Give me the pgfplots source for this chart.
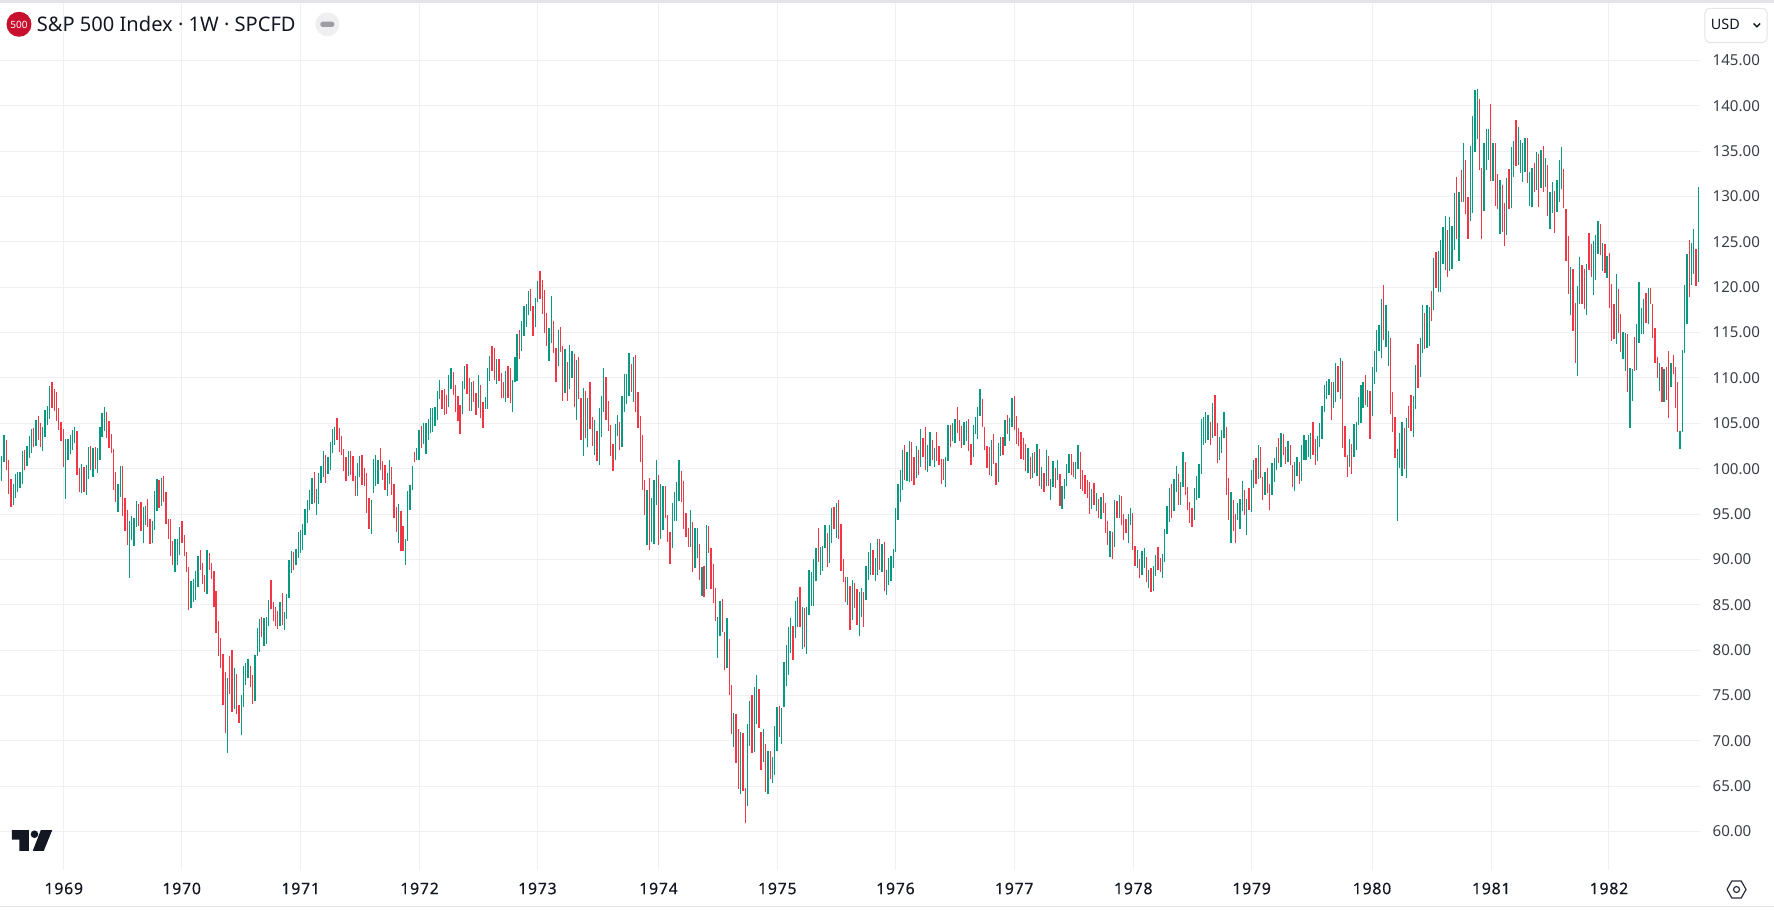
\documentclass[border=0pt]{standalone}
\usepackage{fontspec}
\setmainfont{Noto Sans}
\newfontfamily\yearfont[FakeBold=0.3,LetterSpace=5]{Noto Sans}
\usepackage{pgfplots}
\usepackage{pgfplotstable}
\pgfplotsset{compat=1.18}
\definecolor{upc}{HTML}{089981}
\definecolor{dnc}{HTML}{F23645}
\definecolor{gridc}{HTML}{F0F0F2}
\definecolor{txt}{HTML}{131722}
\definecolor{axt}{HTML}{3A3E48}
\definecolor{edge}{HTML}{E4E4E8}
\definecolor{badge}{HTML}{C8102E}
\definecolor{pill}{HTML}{EFEFF1}
\definecolor{pilld}{HTML}{9C9EA3}
\definecolor{icon}{HTML}{2A2E39}
% weekly bars: high, low, c (1 = up, 0 = down)
\pgfplotstableread{
h l c
101.4 98.6 1
103.7 100.7 1
103.2 99.9 0
100.9 97.2 0
98.9 95.8 0
98.3 96.0 1
99.4 96.8 1
99.6 97.4 1
99.6 97.9 1
102.0 98.3 1
102.1 99.8 0
102.5 100.3 1
103.6 101.2 1
104.4 101.7 1
104.5 102.4 0
105.4 102.5 1
105.8 103.2 0
105.0 102.4 0
104.6 101.9 1
106.5 103.5 1
106.9 104.8 1
109.1 105.5 1
109.5 106.7 0
108.8 106.4 0
108.5 105.2 0
106.7 104.3 0
105.1 103.1 0
104.4 100.2 0
103.3 96.7 1
103.3 100.9 1
103.7 101.6 1
104.3 102.1 1
104.6 102.8 1
104.1 99.3 0
100.1 97.4 0
100.5 97.3 1
100.2 97.4 0
100.4 97.1 1
102.4 98.9 1
102.5 99.9 0
102.3 99.1 1
102.4 100.0 0
102.3 99.5 1
104.6 101.0 1
106.1 103.5 1
106.8 104.2 1
106.2 103.4 0
105.2 102.3 0
103.8 101.7 0
102.2 97.7 0
99.6 96.3 0
98.3 95.2 1
100.3 96.9 1
100.3 94.8 0
96.8 93.1 0
95.4 91.6 0
94.2 88.0 1
94.8 92.1 1
94.6 91.5 1
96.4 93.6 1
96.1 93.7 0
96.3 93.1 0
95.8 91.8 1
95.9 93.8 1
96.7 93.6 0
94.4 91.7 0
94.2 91.8 1
97.5 93.2 1
98.9 95.3 1
98.8 95.7 0
99.0 95.9 1
99.2 96.3 0
97.4 93.9 0
94.4 92.2 0
94.4 90.4 0
92.0 89.4 0
92.3 88.6 1
92.3 89.4 1
93.6 90.5 1
94.2 91.8 0
92.7 90.4 0
90.8 88.6 0
89.2 84.4 0
87.6 84.6 1
87.8 85.3 1
88.7 85.5 1
90.4 87.0 1
91.0 88.8 0
89.6 87.3 0
88.3 86.4 0
91.0 86.2 1
90.7 88.8 0
89.6 87.8 0
88.7 84.7 0
86.5 81.9 0
83.2 79.3 0
81.3 78.0 0
79.6 74.0 0
77.6 70.9 0
76.9 68.6 1
79.4 75.2 0
80.0 73.2 0
78.0 73.5 1
77.4 73.0 0
73.9 72.0 0
75.1 70.6 1
78.2 73.7 1
78.6 76.2 1
79.0 76.9 1
78.2 75.9 0
77.3 74.1 0
79.5 74.4 1
82.4 79.4 1
83.4 79.8 1
83.7 81.4 0
83.5 80.5 1
83.6 80.7 1
85.5 82.6 1
87.7 84.5 0
85.3 83.2 0
84.7 82.6 0
84.3 82.3 0
85.3 82.6 1
86.3 82.8 0
84.2 82.2 1
86.2 83.4 1
89.9 85.7 1
90.9 88.5 1
90.8 88.8 0
91.1 89.4 1
93.0 90.2 1
93.2 90.7 1
93.9 91.0 1
95.6 92.7 1
96.5 94.0 1
97.7 95.4 1
99.0 96.1 1
99.6 96.2 0
97.8 94.9 1
99.5 96.1 1
100.3 98.4 1
102.0 99.1 1
101.5 98.4 0
101.3 99.4 1
102.9 99.9 1
104.4 101.7 1
104.6 102.6 1
105.6 103.2 0
104.5 101.8 0
103.6 101.5 0
102.2 99.7 0
101.3 98.6 0
102.0 99.2 1
102.0 99.3 0
101.4 98.6 0
99.2 97.0 0
100.6 97.0 1
101.4 99.1 1
101.5 98.2 0
100.1 98.1 0
99.5 95.1 0
96.8 93.4 0
96.5 92.8 1
101.1 97.3 1
101.5 98.1 1
101.0 98.3 1
102.3 99.8 0
100.8 98.8 0
100.4 97.6 0
99.5 97.0 1
101.0 98.3 1
100.2 97.1 0
98.3 94.6 0
95.8 93.0 0
96.1 91.8 1
95.3 90.9 0
93.7 90.9 0
92.2 89.4 1
97.5 92.0 1
98.2 95.4 1
100.3 97.6 1
101.8 100.7 0
102.3 101.0 1
104.3 100.9 1
104.7 102.3 0
105.0 102.7 1
105.0 101.6 1
105.5 103.2 1
106.7 103.9 1
106.7 104.0 1
106.8 104.7 1
108.6 105.4 1
109.8 107.7 1
108.7 106.6 0
108.8 105.9 0
108.1 106.0 0
110.3 106.8 1
111.1 108.8 1
110.7 108.1 0
109.2 106.3 0
108.0 105.2 0
107.0 103.8 0
109.7 106.0 1
111.3 108.8 1
111.5 108.2 0
110.0 106.4 0
109.6 106.4 1
109.7 107.4 0
108.3 105.9 0
110.3 106.7 1
109.2 105.6 0
107.3 104.5 0
107.9 106.6 1
111.1 106.6 1
112.4 109.7 1
113.5 110.8 0
113.3 109.8 0
112.1 109.3 1
112.1 109.7 0
110.5 107.8 0
109.6 107.8 0
110.8 107.4 1
111.3 107.8 0
111.1 107.2 0
109.8 106.3 1
112.3 109.5 1
114.9 109.7 1
115.3 112.1 0
116.3 113.0 1
117.9 114.6 1
118.2 115.6 1
119.6 116.9 1
119.8 117.4 0
117.9 114.6 0
118.8 115.6 1
120.7 118.4 1
121.8 118.7 0
120.8 117.1 0
119.7 115.0 0
117.2 113.5 0
115.5 111.9 1
119.0 113.8 1
116.3 112.8 0
113.3 109.5 0
115.3 111.3 1
115.6 112.9 0
113.5 107.5 0
113.2 108.3 1
111.8 107.5 0
113.6 108.8 1
113.0 110.0 1
112.6 106.8 0
112.0 105.4 1
112.3 107.7 0
107.8 103.2 0
108.9 101.4 1
108.6 103.4 0
107.8 102.4 1
109.6 104.4 0
105.7 102.5 0
105.4 101.5 1
104.2 100.8 0
106.7 100.4 1
108.0 103.5 1
111.1 106.3 1
110.1 105.4 0
107.5 104.2 0
104.8 101.4 0
102.7 99.7 0
104.9 101.0 1
105.9 103.6 1
105.1 102.1 0
108.0 102.4 1
110.4 106.2 1
110.4 107.1 1
112.8 108.0 1
111.5 108.5 0
112.3 107.4 1
112.5 106.3 0
108.4 104.5 0
105.8 100.7 0
103.7 97.6 0
98.7 94.9 0
97.6 91.6 1
99.0 91.0 0
96.8 91.9 1
98.7 91.7 1
100.9 96.0 1
99.3 91.6 0
98.3 92.3 1
98.1 93.2 1
98.1 94.6 0
94.9 91.9 0
93.0 89.5 0
96.2 91.3 1
97.4 94.2 1
98.5 94.2 1
101.0 96.4 1
99.7 96.3 0
98.6 93.4 0
95.1 92.5 0
93.5 91.4 0
95.4 91.4 1
94.1 88.6 0
93.5 89.0 1
93.5 90.1 1
91.7 87.7 0
89.2 86.0 1
89.3 85.8 0
93.8 86.7 1
93.7 90.7 0
91.3 86.7 0
89.5 85.2 0
86.8 83.2 0
83.6 79.1 1
85.4 81.6 1
85.6 82.0 0
82.0 77.8 0
83.5 78.0 1
81.2 75.1 0
76.1 70.7 0
73.1 69.3 1
72.9 67.6 0
71.3 64.7 0
71.0 64.1 1
70.9 64.5 0
64.8 60.9 0
71.9 62.8 1
74.4 69.4 1
75.0 68.7 0
75.9 68.8 1
77.3 71.9 1
75.7 71.4 0
71.0 66.8 0
71.3 67.7 1
69.7 64.3 0
68.9 64.1 1
68.9 65.8 0
68.2 65.3 1
71.6 66.2 1
73.7 68.9 1
73.8 70.4 0
73.6 69.7 1
78.7 73.7 1
80.6 76.0 1
82.5 77.3 1
83.5 79.7 1
82.7 78.9 0
85.4 81.3 1
85.8 82.5 1
87.0 82.5 0
84.8 80.1 1
84.6 80.3 0
84.7 79.6 1
88.8 83.9 1
88.6 84.9 1
90.0 84.9 1
91.2 87.6 1
93.5 89.7 0
91.4 88.3 1
91.5 88.7 1
93.8 91.3 1
92.9 89.2 0
93.8 89.6 1
95.7 91.8 1
95.8 93.3 0
96.2 92.4 1
96.5 92.3 0
93.9 88.7 0
90.0 87.5 0
88.1 85.3 0
88.1 85.0 1
87.1 82.2 0
87.7 83.3 1
87.4 84.6 0
86.7 82.8 0
86.4 81.5 1
86.8 83.7 1
86.4 82.5 0
89.3 85.5 1
90.8 87.7 1
91.8 88.3 1
91.0 88.3 0
90.1 87.6 1
92.3 88.3 1
92.3 88.8 0
91.7 88.6 1
91.9 86.5 0
88.8 86.1 1
90.1 87.2 1
90.4 87.6 1
91.1 89.1 1
95.7 90.8 1
98.3 94.3 1
99.8 96.3 1
102.1 97.6 1
102.6 98.7 0
101.8 98.6 1
103.0 98.5 1
102.9 98.6 0
101.3 98.2 0
102.5 99.0 1
102.1 99.3 0
104.4 100.2 1
103.4 101.3 0
104.6 99.8 0
102.6 99.6 1
104.0 100.3 1
103.2 101.0 0
102.3 100.2 1
104.0 100.8 0
102.5 100.4 0
101.1 98.3 0
101.1 98.8 0
101.3 98.0 1
104.8 100.8 1
104.8 102.4 0
105.0 103.0 1
105.5 102.8 1
106.8 103.9 0
105.4 103.0 0
104.7 102.3 0
105.1 102.6 1
105.3 103.0 1
105.5 102.0 0
102.7 100.4 0
104.8 101.3 1
105.7 103.8 1
106.8 103.3 1
108.8 105.8 1
107.7 104.6 0
104.6 102.1 0
102.5 100.1 0
102.4 99.3 0
103.2 99.2 1
103.8 100.5 0
100.6 98.2 0
102.8 98.5 1
103.5 101.4 1
103.5 101.5 0
105.4 102.5 1
105.9 103.8 0
105.6 103.1 1
107.8 104.6 1
108.0 104.3 0
105.8 102.7 0
104.5 102.5 0
104.0 101.1 0
103.4 101.0 0
102.7 99.7 0
102.3 99.5 1
101.3 98.9 0
101.7 99.0 1
101.8 99.5 0
102.7 99.2 1
102.2 98.1 0
100.2 97.8 1
99.5 97.4 0
102.1 98.1 1
101.4 98.1 0
98.9 96.5 1
100.8 98.0 1
100.1 97.9 0
101.0 98.8 1
99.4 95.9 0
98.1 95.5 1
98.9 96.7 1
100.5 98.1 1
101.6 99.5 1
101.6 99.3 0
100.7 99.1 0
100.7 98.9 1
102.6 100.0 1
101.8 97.8 0
99.8 97.5 0
99.3 97.2 0
98.8 96.8 0
98.5 95.0 0
97.8 95.5 1
98.4 96.0 0
97.3 95.3 1
96.7 94.6 0
96.9 94.5 1
97.3 95.1 0
96.2 92.9 0
94.2 91.6 0
93.1 90.3 1
93.0 90.0 0
96.5 91.4 1
96.4 94.6 0
97.1 94.6 1
97.0 93.8 0
95.0 92.1 0
94.5 92.9 0
95.0 91.8 1
95.7 93.8 1
95.1 91.0 0
91.5 89.3 0
91.0 89.0 1
90.0 88.0 0
90.9 88.3 1
91.3 89.0 1
90.3 87.5 0
88.8 86.8 1
89.0 86.4 0
89.3 86.5 1
90.5 88.2 1
91.4 88.8 0
90.1 88.6 0
90.6 88.0 1
93.4 89.7 1
95.9 92.8 1
97.9 94.1 1
98.3 94.6 0
98.9 95.3 1
100.3 97.4 1
99.4 96.0 0
98.5 96.0 1
101.8 98.0 1
100.7 97.1 0
98.0 95.4 0
96.3 94.0 0
95.7 93.6 0
97.9 94.3 1
99.2 96.5 1
100.5 96.8 1
105.5 99.4 1
105.7 102.6 1
106.2 102.8 1
105.9 103.2 1
105.1 102.6 0
107.2 103.4 1
108.1 103.6 0
105.0 100.6 0
103.5 101.0 1
104.3 101.7 1
106.2 103.4 1
104.6 97.1 0
99.0 94.3 0
97.4 91.8 1
96.5 93.1 0
95.0 91.8 0
96.2 94.3 1
96.7 93.3 1
98.6 95.3 1
97.6 94.9 0
96.7 92.7 1
97.9 95.4 0
99.8 95.2 1
101.0 97.9 1
101.2 98.3 0
102.6 98.9 1
102.4 99.0 0
99.1 96.5 0
99.6 97.1 1
100.1 97.3 0
98.3 95.4 0
100.6 97.1 1
101.2 98.5 1
102.4 99.8 1
103.4 100.6 0
103.9 100.2 1
103.8 101.5 0
102.4 100.5 0
103.0 100.7 1
102.6 100.4 0
100.4 98.0 0
100.7 97.5 1
101.3 99.2 1
100.7 98.3 0
102.6 98.6 1
103.7 101.0 1
103.2 101.0 1
103.7 101.3 1
103.9 101.1 1
105.1 101.5 0
103.3 100.4 0
103.6 100.8 1
105.0 102.4 1
106.9 103.3 1
109.2 106.2 1
109.7 107.7 1
109.9 108.1 1
109.5 105.4 0
109.6 106.7 1
111.7 107.3 1
111.3 108.4 0
112.2 107.7 1
111.9 102.3 0
104.7 101.3 0
101.5 99.1 0
103.3 100.2 1
102.7 99.4 0
104.9 101.3 1
105.1 102.1 1
107.9 104.8 1
109.2 105.0 1
109.6 106.7 1
110.3 107.0 0
108.7 106.8 1
108.6 103.3 0
111.2 105.8 1
113.0 109.3 1
115.3 110.7 1
115.8 113.0 1
118.7 112.2 1
120.3 114.2 0
118.0 113.4 1
115.2 111.3 1
114.4 106.0 0
108.5 104.0 0
105.7 101.2 0
102.2 94.2 1
103.9 100.1 1
105.1 99.2 1
104.5 100.0 0
105.6 99.0 1
106.9 104.5 0
108.1 104.2 0
108.0 103.5 1
111.4 106.6 1
113.7 108.9 0
114.4 110.1 1
118.0 112.8 1
117.2 113.2 0
118.0 113.3 1
117.8 113.5 1
119.6 116.3 0
123.2 117.5 1
123.9 119.9 0
124.0 119.5 1
125.2 119.5 1
126.6 122.6 1
127.8 121.9 1
126.3 121.1 0
127.7 121.8 1
126.7 122.0 1
130.4 124.1 1
132.1 125.3 0
130.5 122.9 1
132.9 129.4 0
135.9 129.4 1
134.0 128.1 0
129.9 125.3 0
135.6 127.3 1
138.9 128.2 1
141.7 134.9 1
141.9 136.3 1
140.7 132.9 0
133.2 125.3 0
135.9 128.4 1
137.5 132.9 1
137.5 134.0 1
140.2 131.7 0
135.9 131.7 1
135.9 129.0 0
132.5 128.6 0
131.8 125.9 1
131.3 126.1 0
129.3 124.6 0
132.0 125.8 1
133.0 128.6 0
135.5 128.7 1
136.1 132.1 1
138.4 133.4 0
137.7 133.5 1
136.2 132.6 1
135.9 131.6 1
136.4 132.7 1
136.5 131.5 0
132.7 129.0 1
133.2 128.8 1
133.7 130.5 0
134.9 130.7 1
134.7 128.8 0
135.1 130.9 1
135.6 130.5 0
134.3 131.1 1
133.5 127.8 0
130.5 126.4 1
131.6 128.2 1
130.6 126.0 0
131.8 128.3 1
134.0 129.4 1
135.5 130.8 1
133.0 128.7 0
128.6 122.9 0
125.6 119.3 0
122.2 116.9 1
122.0 115.2 0
118.3 111.7 0
120.1 110.2 1
123.3 118.2 1
122.5 118.1 0
122.0 117.6 0
122.6 116.9 1
126.0 121.9 0
124.8 121.1 0
125.1 119.2 1
125.8 120.8 1
127.3 123.7 1
127.0 123.5 0
124.9 121.8 1
124.8 121.6 0
123.4 121.0 1
123.8 117.7 0
120.4 114.1 0
118.2 114.3 0
121.5 113.7 1
119.8 115.0 0
117.1 112.9 0
115.1 112.1 1
115.0 110.8 1
114.9 108.4 0
111.1 104.5 1
111.0 107.5 1
114.5 110.8 0
115.9 110.9 1
120.6 113.8 1
117.7 114.9 1
118.7 114.9 1
119.4 116.1 0
119.9 116.0 1
119.9 118.1 0
118.1 114.4 0
115.5 111.7 0
112.3 110.0 0
111.6 108.6 1
111.2 107.4 0
111.0 107.3 1
111.2 107.6 0
113.0 105.6 0
111.6 109.0 1
112.5 110.4 0
111.2 106.7 0
109.5 104.0 0
104.2 102.2 1
113.1 104.0 1
120.3 112.7 1
123.7 115.9 1
125.2 118.9 0
124.9 120.3 1
126.4 121.5 1
124.2 120.1 0
131.1 120.6 1
}\bars
\pgfplotstablecreatecol[expr={\pgfplotstablerow}]{i}{\bars}
\begin{document}
\begin{tikzpicture}
\begin{scope}[x=0.5bp,y=-0.5bp,shift={(0,-910)}]
\useasboundingbox (0,0) rectangle (1774,910);
\end{scope}
\begin{axis}[
  at={(0,20bp)},anchor=south west,
  scale only axis,width=850bp,height=433.5bp,
  xmin=-0.57,xmax=744.55,ymin=55.81,ymax=151.34,
  axis line style={draw=none},
  tick style={draw=none},
  major tick length=0pt,
  grid=major,
  grid style={color=gridc,line width=0.5bp},
  xtick={27.2,78.9,131.1,183.2,234.9,288.0,340.1,391.9,444.0,496.2,548.1,600.9,653.2,704.8},
  xticklabels={1969,1970,1971,1972,1973,1974,1975,1976,1977,1978,1979,1980,1981,1982},
  x tick label style={inner sep=0pt,anchor=center,yshift=-9.5bp,
     font=\yearfont\fontsize{7.9bp}{9bp}\selectfont,text=txt},
  xtick pos=bottom,
  ytick={60,65,...,145},
  ytick pos=right,
  yticklabel pos=right,
  y tick label style={inner sep=0pt,anchor=west,xshift=6.35bp,
     font=\fontsize{7.55bp}{9bp}\selectfont,text=axt,
     /pgf/number format/fixed,/pgf/number format/fixed zerofill,/pgf/number format/precision=2,
     /pgf/number format/assume math mode=true},
]
\addplot[draw=none,mark=none,forget plot,
  restrict expr to domain={\thisrow{c}}{0:0},
  error bars/.cd,y dir=plus,y explicit,error mark=none,
  error bar style={color=dnc,line width=0.65bp}]
  table[x=i,y=l,y error expr=\thisrow{h}-\thisrow{l}]{\bars};
\addplot[draw=none,mark=none,forget plot,
  restrict expr to domain={\thisrow{c}}{1:1},
  error bars/.cd,y dir=plus,y explicit,error mark=none,
  error bar style={color=upc,line width=0.65bp}]
  table[x=i,y=l,y error expr=\thisrow{h}-\thisrow{l}]{\bars};
\end{axis}
\begin{scope}[x=0.5bp,y=-0.5bp,shift={(0,-910)}]
% frame bands
\fill[edge] (0,0) rectangle (1774,3);
\draw[edge,line width=0.5bp] (0,907) -- (1774,907);
% symbol badge and title
\fill[badge] (18.5,24.3) circle (12.5);
\node[text=white,font=\bfseries\fontsize{5bp}{6bp}\selectfont,inner sep=0pt] at (18.5,24.5) {500};
\node[anchor=west,inner sep=0pt,text=txt,font=\fontsize{10.05bp}{12bp}\selectfont] at (36,24.3) {S\&P 500 Index · 1W · SPCFD};
\fill[pill] (327,24.3) circle (12);
\fill[pilld,rounded corners=1.2bp] (320,21.7) rectangle (334,27);
% currency box
\draw[edge,line width=0.5bp,rounded corners=2.5bp] (1705.3,8.3) rectangle (1767.7,42.7);
\node[anchor=west,inner sep=0pt,text=txt,font=\fontsize{7.2bp}{9bp}\selectfont] at (1711,24.5) {USD};
\draw[txt,line width=0.7bp] (1754,23.5) -- (1757.3,26.8) -- (1760.6,23.5);
% logo
\fill[txt] (11.3,830.7) -- (28.3,830.7) -- (28.3,851.3) -- (19,851.3) -- (19,840) -- (11.3,840) -- cycle;
\fill[txt] (34,834.7) circle (3.8);
\fill[txt] (40.3,830.7) -- (51.7,830.7) -- (43.3,851.3) -- (32.3,851.3) -- cycle;
% settings icon
\draw[icon,line width=0.6bp,line join=round] (1727.5,890) -- (1732.3,881.5) -- (1741.7,881.5) -- (1746.5,890) -- (1741.7,898.5) -- (1732.3,898.5) -- cycle;
\draw[icon,line width=0.6bp] (1737,890) circle (3);
\end{scope}
\end{tikzpicture}
\end{document}
